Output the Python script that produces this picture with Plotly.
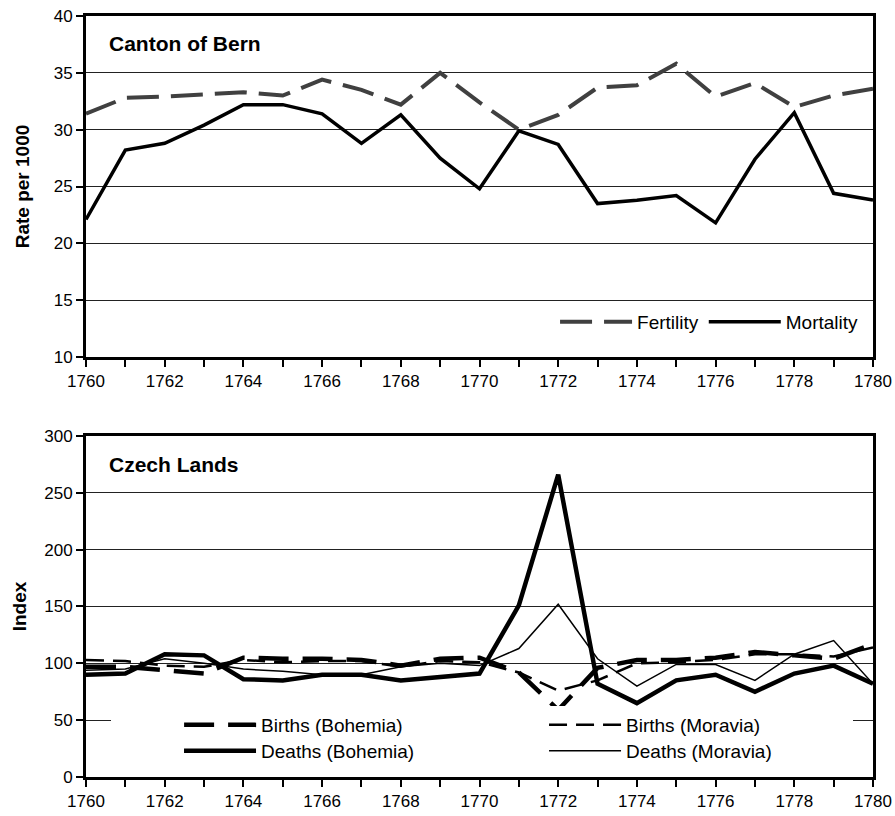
import plotly.graph_objects as go
from plotly.subplots import make_subplots

years = [1760, 1761, 1762, 1763, 1764, 1765, 1766, 1767, 1768, 1769, 1770,
         1771, 1772, 1773, 1774, 1775, 1776, 1777, 1778, 1779, 1780]

fertility = [31.4, 32.8, 32.9, 33.1, 33.3, 33.0, 34.4, 33.5, 32.2, 35.0, 32.4,
             30.0, 31.3, 33.7, 33.9, 35.8, 32.9, 34.1, 32.0, 33.0, 33.6]
mortality = [22.1, 28.2, 28.8, 30.4, 32.2, 32.2, 31.4, 28.8, 31.3, 27.5, 24.8,
             29.9, 28.7, 23.5, 23.8, 24.2, 21.8, 27.4, 31.5, 24.4, 23.8]

births_bohemia = [97, 97, 94, 91, 105, 104, 104, 103, 98, 104, 105,
                  92, 59, 96, 103, 103, 105, 110, 107, 104, 117]
births_moravia = [103, 102, 98, 97, 103, 101, 102, 102, 97, 102, 101,
                  92, 76, 85, 100, 101, 103, 108, 108, 106, 114]
deaths_bohemia = [90, 91, 108, 107, 86, 85, 90, 90, 85, 88, 91,
                  151, 266, 82, 65, 85, 90, 75, 91, 98, 82]
deaths_moravia = [94, 95, 104, 100, 95, 93, 90, 90, 97, 100, 98,
                  113, 152, 104, 80, 99, 99, 85, 108, 120, 82]

top_title = "Canton of Bern"
bottom_title = "Czech Lands"
top_ylabel = "Rate per 1000"
bottom_ylabel = "Index"
xtick_labels = [str(y) if y % 2 == 0 else "" for y in years]

FONT = "Liberation Sans, Arial, sans-serif"

fig = make_subplots(rows=2, cols=1, vertical_spacing=0.1038)

fig.add_trace(go.Scatter(x=years, y=fertility, name="Fertility", mode="lines",
                         line=dict(color="#404040", width=4, dash="32px,12px"),
                         legend="legend"), row=1, col=1)
fig.add_trace(go.Scatter(x=years, y=mortality, name="Mortality", mode="lines",
                         line=dict(color="#000000", width=3.5),
                         legend="legend"), row=1, col=1)

fig.add_trace(go.Scatter(x=years, y=births_bohemia, name="Births (Bohemia)", mode="lines",
                         line=dict(color="#000000", width=4.5, dash="30px,14px"),
                         legend="legend2"), row=2, col=1)
fig.add_trace(go.Scatter(x=years, y=births_moravia, name="Births (Moravia)", mode="lines",
                         line=dict(color="#000000", width=2.5, dash="18px,9px"),
                         legend="legend3"), row=2, col=1)
fig.add_trace(go.Scatter(x=years, y=deaths_bohemia, name="Deaths (Bohemia)", mode="lines",
                         line=dict(color="#000000", width=4.5),
                         legend="legend4"), row=2, col=1)
fig.add_trace(go.Scatter(x=years, y=deaths_moravia, name="Deaths (Moravia)", mode="lines",
                         line=dict(color="#000000", width=1.5),
                         legend="legend5"), row=2, col=1)

xaxis_common = dict(range=[1760, 1780], tickmode="array", tickvals=years, ticktext=xtick_labels,
                    ticks="outside", ticklen=7, tickwidth=2, tickcolor="#000",
                    showline=True, linewidth=3, linecolor="#000", mirror=True,
                    showgrid=False, zeroline=False, automargin=False,
                    tickfont=dict(family=FONT, size=17, color="#000"))
fig.update_xaxes(**xaxis_common, row=1, col=1)
fig.update_xaxes(**xaxis_common, row=2, col=1)

yaxis_common = dict(ticks="outside", ticklen=7, tickwidth=2, tickcolor="#000",
                    showline=True, linewidth=3, linecolor="#000", mirror=True,
                    showgrid=True, gridcolor="#222", gridwidth=1, zeroline=False,
                    automargin=False,
                    tickfont=dict(family=FONT, size=17, color="#000"))
fig.update_yaxes(**yaxis_common, range=[10, 40], dtick=5,
                 title=dict(text="<b>" + top_ylabel + "</b>", standoff=20,
                            font=dict(family=FONT, size=19, color="#000")), row=1, col=1)
fig.update_yaxes(**yaxis_common, range=[0, 300], dtick=50,
                 title=dict(text="<b>" + bottom_ylabel + "</b>", standoff=13,
                            font=dict(family=FONT, size=19, color="#000")), row=2, col=1)

fig.add_annotation(text="<b>" + top_title + "</b>", xref="x domain", yref="y domain",
                   x=0.027, y=0.918, xanchor="left", yanchor="middle", showarrow=False,
                   font=dict(family=FONT, size=21, color="#000"))
fig.add_annotation(text="<b>" + bottom_title + "</b>", xref="x2 domain", yref="y2 domain",
                   x=0.027, y=0.915, xanchor="left", yanchor="middle", showarrow=False,
                   font=dict(family=FONT, size=21, color="#000"))

LEG_FONT = dict(family=FONT, size=19, color="#000")
row1_y = 0.0683
row2_y = 0.0342
left_x = 0.1182
mid_x = 0.5820
pad_x = 0.0318


def leg(x, y, ew, bg, title=None):
    d = dict(orientation="h", x=x, xanchor="left", y=y, yanchor="middle",
             bgcolor=bg, font=LEG_FONT, itemwidth=72, entrywidth=ew,
             traceorder="normal", borderwidth=0)
    if title is not None:
        d["title"] = dict(text=title, side="left", font=LEG_FONT)
    return d


fig.update_layout(
    width=895, height=816,
    margin=dict(l=86, r=22, t=16, b=39, autoexpand=False),
    paper_bgcolor="white", plot_bgcolor="white",
    font=dict(family=FONT, size=17, color="#000"),
    showlegend=True,
    legend=dict(orientation="h", x=0.596, xanchor="left", y=0.598, yanchor="middle",
                bgcolor="rgba(255,255,255,0)", font=LEG_FONT, itemwidth=72,
                traceorder="normal"),
    legend2=leg(pad_x, row1_y, 283, "white", title="\u00a0" * 11),
    legend3=leg(mid_x, row1_y, 222, "white"),
    legend4=leg(left_x, row2_y, 283, "rgba(255,255,255,0)"),
    legend5=leg(mid_x, row2_y, 222, "rgba(255,255,255,0)"),
)

fig.write_html("out.html", config={"displayModeBar": False},
               post_script="document.body.style.margin='0';")
